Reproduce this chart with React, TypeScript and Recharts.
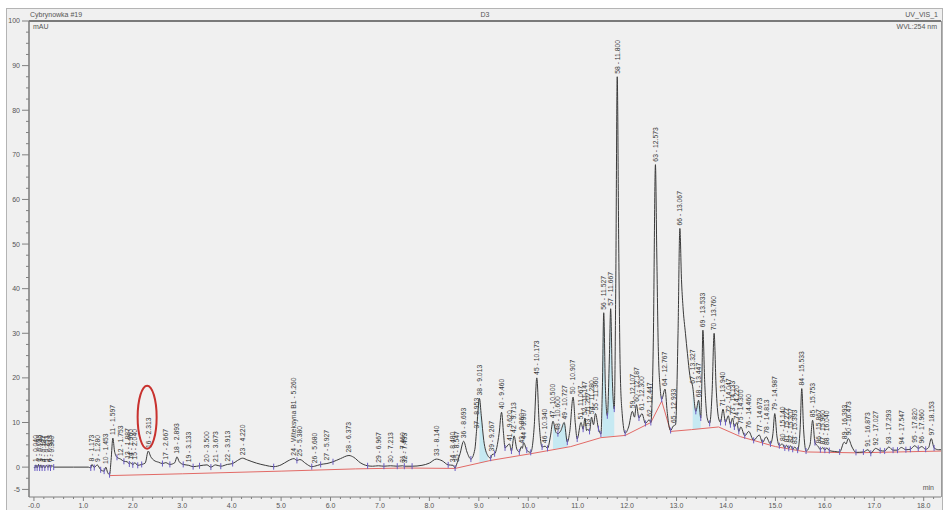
import { ComposedChart, Line, Area, Scatter, XAxis, YAxis, ReferenceDot } from 'recharts';

// signal trace: [retention time (min), absorbance (mAU)]
const signal: [number, number][] = [
  [0.0, 0.0], [0.02, -0.2], [0.04, 0.5], [0.065, -0.2], [0.093, 0.6], [0.115, -0.2], [0.14, 0.5],
  [0.165, -0.2], [0.187, 0.4], [0.22, -0.2], [0.253, 0.4], [0.285, -0.1], [0.313, 0.5], [0.335, -0.2],
  [0.36, 0.4], [0.4, 0.0], [0.8, 0.0], [1.1, 0.0], [1.15, -0.2], [1.173, 0.6], [1.22, -0.1], [1.28, 0.5],
  [1.35, -0.6], [1.42, -0.9], [1.453, 0.0], [1.49, -1.2], [1.53, -1.7], [1.56, 1.5], [1.597, 6.5],
  [1.63, 3.6], [1.68, 2.2], [1.753, 1.8], [1.82, 1.3], [1.887, 1.2], [1.93, 0.7], [1.96, 1.0], [2.0, 0.5],
  [2.04, 1.0], [2.1, 0.4], [2.18, 0.6], [2.25, 0.9], [2.313, 3.6], [2.36, 2.4], [2.43, 1.5], [2.52, 1.1],
  [2.6, 0.8], [2.667, 1.0], [2.75, 0.6], [2.85, 1.0], [2.893, 2.3], [2.94, 1.2], [3.02, 0.6], [3.133, 0.4],
  [3.22, 0.1], [3.35, 0.3], [3.5, 0.5], [3.58, 0.0], [3.673, 0.5], [3.78, 0.2], [3.913, 0.6], [4.02, 0.8],
  [4.12, 1.5], [4.22, 2.0], [4.32, 1.6], [4.5, 0.9], [4.68, 0.4], [4.85, 0.1], [5.0, 0.5], [5.14, 1.4],
  [5.26, 1.9], [5.32, 1.5], [5.38, 1.7], [5.5, 0.8], [5.62, 0.1], [5.68, 0.2], [5.8, 0.6], [5.927, 0.8],
  [6.05, 1.2], [6.2, 1.9], [6.373, 2.6], [6.47, 2.2], [6.6, 1.0], [6.75, 0.3], [6.85, 0.2], [6.967, 0.3],
  [7.08, 0.2], [7.213, 0.3], [7.35, 0.2], [7.46, 0.3], [7.493, 0.2], [7.65, 0.2], [7.85, 0.4], [8.0, 0.9],
  [8.14, 1.8], [8.26, 1.4], [8.38, 0.5], [8.48, 0.4], [8.52, -0.2], [8.547, 0.5], [8.62, 3.0], [8.693, 5.8],
  [8.76, 3.4], [8.84, 1.8], [8.92, 4.0], [8.953, 8.0], [9.013, 15.4], [9.05, 11.5], [9.1, 6.0], [9.18, 2.6],
  [9.24, 2.0], [9.267, 2.8], [9.32, 3.0], [9.41, 7.5], [9.46, 12.3], [9.5, 7.5], [9.53, 4.3], [9.62, 5.2],
  [9.66, 3.6], [9.713, 7.0], [9.77, 4.0], [9.82, 3.4], [9.86, 4.6], [9.88, 4.2], [9.907, 5.5], [9.97, 3.8],
  [10.05, 3.3], [10.12, 9.0], [10.173, 20.0], [10.22, 10.0], [10.28, 4.5], [10.34, 4.7], [10.39, 4.2],
  [10.45, 7.0], [10.5, 10.3], [10.56, 7.8], [10.6, 7.5], [10.66, 8.2], [10.727, 10.0], [10.79, 5.6],
  [10.84, 8.0], [10.907, 15.7], [10.95, 10.0], [10.99, 6.3], [11.067, 10.0], [11.11, 8.5], [11.147, 11.0],
  [11.18, 8.2], [11.207, 8.5], [11.24, 8.0], [11.28, 11.2], [11.32, 9.5], [11.36, 12.0], [11.42, 8.6],
  [11.47, 7.4], [11.5, 18.0], [11.527, 34.6], [11.56, 18.0], [11.6, 11.5], [11.64, 24.0], [11.667, 35.5],
  [11.7, 20.0], [11.74, 13.0], [11.77, 40.0], [11.8, 87.5], [11.83, 50.0], [11.86, 22.0], [11.9, 12.0],
  [11.96, 7.6], [12.03, 9.0], [12.107, 12.5], [12.15, 11.2], [12.187, 14.0], [12.24, 11.0], [12.3, 12.0],
  [12.37, 9.8], [12.447, 10.6], [12.48, 10.0], [12.53, 28.0], [12.573, 67.8], [12.6, 48.0], [12.63, 27.0],
  [12.67, 17.5], [12.7, 15.2], [12.767, 17.5], [12.81, 12.5], [12.85, 9.0], [12.88, 8.2], [12.933, 9.2],
  [12.98, 9.5], [13.03, 30.0], [13.067, 53.5], [13.1, 42.0], [13.13, 36.0], [13.18, 30.0], [13.22, 25.5],
  [13.27, 20.5], [13.327, 18.0], [13.39, 12.5], [13.447, 15.0], [13.49, 11.0], [13.51, 18.0],
  [13.533, 30.7], [13.57, 19.0], [13.62, 11.0], [13.67, 9.8], [13.72, 17.0], [13.76, 30.0], [13.8, 18.0],
  [13.85, 11.0], [13.89, 10.0], [13.94, 13.0], [13.99, 10.0], [14.047, 11.5], [14.09, 9.5], [14.133, 11.0],
  [14.17, 9.0], [14.22, 10.0], [14.26, 8.0], [14.3, 9.0], [14.38, 7.0], [14.46, 8.0], [14.56, 6.0],
  [14.673, 7.2], [14.74, 5.5], [14.813, 6.8], [14.9, 5.2], [14.95, 7.5], [14.987, 12.0], [15.03, 7.0],
  [15.08, 4.8], [15.14, 5.2], [15.19, 4.3], [15.227, 4.9], [15.27, 4.2], [15.307, 4.8], [15.35, 4.0],
  [15.393, 4.5], [15.45, 3.8], [15.5, 8.5], [15.533, 17.6], [15.57, 8.5], [15.62, 3.6], [15.7, 5.0],
  [15.753, 10.5], [15.8, 5.5], [15.867, 4.6], [15.91, 3.9], [15.96, 4.4], [16.0, 3.8], [16.04, 4.3],
  [16.09, 3.7], [16.2, 3.5], [16.3, 3.4], [16.393, 5.6], [16.43, 5.2], [16.473, 6.4], [16.55, 4.5],
  [16.63, 3.3], [16.78, 3.4], [16.873, 3.9], [16.93, 3.1], [17.027, 4.2], [17.12, 3.7], [17.21, 3.6],
  [17.293, 4.5], [17.38, 3.8], [17.47, 3.8], [17.547, 4.4], [17.64, 3.9], [17.73, 4.0], [17.82, 4.8],
  [17.89, 4.2], [17.96, 4.6], [18.04, 4.0], [18.1, 4.4], [18.153, 6.4], [18.21, 4.3], [18.3, 3.9], [18.35, 3.9],
];

// red integration baseline
const baseline: [number, number][] = [
  [1.53, -1.9], [3.0, -1.5], [5.0, -0.9], [6.5, -0.4], [7.5, -0.2], [8.52, -0.3], [9.24, 1.5],
  [10.05, 3.0], [10.86, 4.6], [11.47, 6.6], [11.96, 7.1], [12.48, 10.0], [12.7, 14.8], [12.88, 8.0],
  [13.3, 8.4], [13.85, 9.0], [14.3, 6.8], [15.0, 4.6], [15.62, 3.4], [16.63, 3.2], [17.5, 3.4], [18.35, 3.6],
];

// filled peak areas: [t, baseline, signal]
const shadeA: [number, number, number][] = [[9.013, 0.9, 15.4], [9.05, 1.0, 11.5], [9.1, 1.1, 6.0], [9.18, 1.3, 2.6]];
const shadeB: [number, number, number][] = [[10.5, 4.0, 10.3], [10.56, 4.1, 7.8], [10.6, 4.2, 7.5], [10.66, 4.3, 8.2], [10.727, 4.4, 10.0], [10.79, 4.5, 5.6]];
const shadeC: [number, number, number][] = [[11.5, 6.7, 18.0], [11.527, 6.7, 34.6], [11.56, 6.8, 18.0], [11.6, 6.8, 11.5], [11.64, 6.8, 24.0], [11.667, 6.9, 35.5], [11.7, 6.9, 20.0], [11.74, 6.9, 13.0]];
const shadeD: [number, number, number][] = [[13.327, 8.4, 18.0], [13.39, 8.5, 12.5], [13.447, 8.6, 15.0], [13.49, 8.6, 11.0]];

// peak number, retention time, apex height
const peakNo = [
  1, 2, 3, 4, 5, 6, 7, 8, 9, 10, 11, 12, 13, 14, 15, 16, 17, 18, 19, 20, 21, 22, 23, 24, 25, 26, 27, 28, 29, 30,
  31, 32, 33, 34, 35, 36, 37, 38, 39, 40, 41, 42, 43, 44, 45, 46, 47, 48, 49, 50, 51, 52, 53, 54, 55, 56, 57, 58,
  59, 60, 61, 62, 63, 64, 65, 66, 67, 68, 69, 70, 71, 72, 73, 74, 75, 76, 77, 78, 79, 80, 81, 82, 83, 84, 85, 86,
  87, 88, 89, 90, 91, 92, 93, 94, 95, 96, 97,
];
const peakRt = [
  0.04, 0.093, 0.14, 0.187, 0.253, 0.313, 0.36, 1.173, 1.28, 1.453, 1.597, 1.753, 1.887, 1.96, 2.04, 2.313,
  2.667, 2.893, 3.133, 3.5, 3.673, 3.913, 4.22, 5.26, 5.38, 5.68, 5.927, 6.373, 6.967, 7.213, 7.46, 7.493,
  8.14, 8.48, 8.547, 8.693, 8.953, 9.013, 9.267, 9.46, 9.62, 9.713, 9.86, 9.907, 10.173, 10.34, 10.5, 10.6,
  10.727, 10.907, 11.067, 11.147, 11.207, 11.28, 11.36, 11.527, 11.667, 11.8, 12.107, 12.187, 12.3, 12.447,
  12.573, 12.767, 12.933, 13.067, 13.327, 13.447, 13.533, 13.76, 13.94, 14.047, 14.133, 14.22, 14.3, 14.46,
  14.673, 14.813, 14.987, 15.14, 15.227, 15.307, 15.393, 15.533, 15.753, 15.867, 15.96, 16.04, 16.393,
  16.473, 16.873, 17.027, 17.293, 17.547, 17.82, 17.96, 18.153,
];
const peakHeight = [
  0.5, 0.6, 0.5, 0.4, 0.4, 0.5, 0.4, 0.6, 0.5, 0.0, 6.5, 1.8, 1.2, 1.0, 1.0, 3.6, 1.0, 2.3, 0.4, 0.5, 0.5,
  0.6, 2.0, 1.9, 1.7, 0.2, 0.8, 2.6, 0.3, 0.3, 0.3, 0.2, 1.8, 0.4, 0.5, 5.8, 8.0, 15.4, 2.8, 12.3, 5.2, 7.0,
  4.6, 5.5, 20.0, 4.7, 10.3, 7.5, 10.0, 15.7, 10.0, 11.0, 8.5, 11.2, 12.0, 34.6, 35.5, 87.5, 12.5, 14.0,
  12.0, 10.6, 67.8, 17.5, 9.2, 53.5, 18.0, 15.0, 30.7, 30.0, 13.0, 11.5, 11.0, 10.0, 9.0, 8.0, 7.2, 6.8,
  12.0, 5.2, 4.9, 4.8, 4.5, 17.6, 10.5, 4.6, 4.4, 4.3, 5.6, 6.4, 3.9, 4.2, 4.5, 4.4, 4.8, 4.6, 6.4,
];
const peakNames: Record<number, string> = { 24: 'Witeksyna B1' };

// integration delimiters (purple ticks)
const delimiters: [number, number][] = [
  [0.02, -0.2], [0.065, -0.2], [0.115, -0.2], [0.165, -0.2], [0.22, -0.2], [0.285, -0.1], [0.335, -0.2],
  [0.4, 0], [1.15, -0.2], [1.22, -0.1], [1.35, -0.6], [1.42, -0.9], [1.53, -1.7], [1.68, 2.2], [1.82, 1.3],
  [1.93, 0.7], [2.0, 0.5], [2.1, 0.4], [2.18, 0.6], [2.6, 0.8], [2.75, 0.6], [3.02, 0.6], [3.22, 0.1],
  [3.35, 0.3], [3.58, 0.0], [3.78, 0.2], [4.02, 0.8], [4.85, 0.1], [5.32, 1.5], [5.62, 0.1], [5.8, 0.6],
  [6.05, 1.2], [6.75, 0.3], [7.08, 0.2], [7.35, 0.2], [7.493, 0.2], [7.65, 0.2], [8.38, 0.5], [8.52, -0.2],
  [8.84, 1.8], [9.24, 2.0], [9.32, 3.0], [9.53, 4.3], [9.66, 3.6], [9.82, 3.4], [9.97, 3.8], [10.05, 3.3],
  [10.28, 4.5], [10.39, 4.2], [10.6, 7.5], [10.79, 5.6], [10.99, 6.3], [11.11, 8.5], [11.24, 8.0],
  [11.42, 8.6], [11.47, 7.4], [11.6, 11.5], [11.74, 13.0], [11.96, 7.6], [12.24, 11.0], [12.37, 9.8],
  [12.48, 10.0], [12.7, 15.2], [12.88, 8.2], [13.39, 12.5], [13.49, 11.0], [13.67, 9.8], [13.89, 10.0],
  [13.99, 10.0], [14.09, 9.5], [14.17, 9.0], [14.26, 8.0], [14.38, 7.0], [14.56, 6.0], [14.74, 5.5],
  [14.9, 5.2], [15.08, 4.8], [15.19, 4.3], [15.27, 4.2], [15.35, 4.0], [15.45, 3.8], [15.62, 3.6],
  [15.8, 5.5], [15.91, 3.9], [16.0, 3.8], [16.09, 3.7], [16.3, 3.4], [16.63, 3.3], [16.78, 3.4],
  [16.93, 3.1], [17.12, 3.7], [17.21, 3.6], [17.38, 3.8], [17.47, 3.8], [17.64, 3.9], [17.73, 4.0],
  [17.89, 4.2], [18.04, 4.0], [18.21, 4.3],
];

// circled peak annotation
const circled = { t: 2.29, v: 11.2 };

const xMajor = [0, 1, 2, 3, 4, 5, 6, 7, 8, 9, 10, 11, 12, 13, 14, 15, 16, 17, 18];
const xLabels = ['-0.0', '1.0', '2.0', '3.0', '4.0', '5.0', '6.0', '7.0', '8.0', '9.0', '10.0', '11.0', '12.0', '13.0', '14.0', '15.0', '16.0', '17.0', '18.0'];
const yMajor = [-5, 0, 10, 20, 30, 40, 50, 60, 70, 80, 90, 100];
const yLabels = ['-5', '0', '10', '20', '30', '40', '50', '60', '70', '80', '90', '100'];

const xTicks: number[] = [];
for (let k = 0; k <= 91; k++) xTicks.push(Math.round(k * 2) / 10);
const yTicks: number[] = [];
for (let k = -2; k <= 40; k++) yTicks.push(k * 2.5);

const FONT = '"Liberation Sans", Arial, sans-serif';

const signalData = signal.map(([t, v]) => ({ t, v }));
const baselineData = baseline.map(([t, v]) => ({ t, v }));
const toShade = (s: [number, number, number][]) => s.map(([t, lo, hi]) => ({ t, r: [lo, hi] }));
const peakData = peakNo.map((n, i) => ({ n, t: peakRt[i], v: peakHeight[i], name: peakNames[n] }));
const delimiterData = delimiters.map(([t, v]) => ({ t, v }));

function XTick(props: any) {
  const { x, y, payload } = props;
  const i = xMajor.findIndex((m) => Math.abs(m - payload.value) < 1e-6);
  return (
    <g>
      <line x1={x} x2={x} y1={y} y2={y + (i >= 0 ? 4 : 2)} stroke="#808080" />
      {i >= 0 && (
        <text x={x} y={y + 11} textAnchor="middle" fontSize={7} fill="#555" fontFamily={FONT}>
          {xLabels[i]}
        </text>
      )}
    </g>
  );
}

function YTick(props: any) {
  const { x, y, payload } = props;
  const i = yMajor.findIndex((m) => Math.abs(m - payload.value) < 1e-6);
  return (
    <g>
      <line x1={x - (i >= 0 ? 7 : 3)} x2={x} y1={y} y2={y} stroke="#808080" />
      {i >= 0 && (
        <text x={x - 9} y={y} dy="0.35em" textAnchor="end" fontSize={7} fill="#555" fontFamily={FONT}>
          {yLabels[i]}
        </text>
      )}
    </g>
  );
}

function PeakLabel(props: any) {
  const { cx, cy, payload } = props;
  if (cx == null || cy == null) return null;
  const y = cy - 3;
  const text = payload.name
    ? `${payload.n} - ${payload.name} - ${payload.t.toFixed(3)}`
    : `${payload.n} - ${payload.t.toFixed(3)}`;
  return (
    <text x={cx} y={y} dy="0.35em" transform={`rotate(-90 ${cx} ${y})`} fontSize={6.8} fill="#3a3a3a" fontFamily={FONT}>
      {text}
    </text>
  );
}

function Delimiter(props: any) {
  const { cx, cy } = props;
  if (cx == null || cy == null) return null;
  return <line x1={cx} x2={cx} y1={cy - 3} y2={cy + 3} stroke="#6a5cc4" strokeWidth={1} />;
}

const txt = (left: number, top: number, s: string, align: 'left' | 'right' | 'center' = 'left') => (
  <div
    style={{
      position: 'absolute',
      left,
      top,
      fontSize: 7,
      lineHeight: '8px',
      color: '#555',
      fontFamily: FONT,
      whiteSpace: 'nowrap',
      transform: align === 'right' ? 'translateX(-100%)' : align === 'center' ? 'translateX(-50%)' : undefined,
    }}
  >
    {s}
  </div>
);

export default function App() {
  return (
    <div style={{ position: 'absolute', left: 0, top: 0, width: 946, height: 510, background: '#fff', overflow: 'hidden' }}>
      <div style={{ position: 'absolute', left: 6, top: 8, width: 935, height: 510, background: '#f0f0f0', border: '1px solid #b4b4b4' }} />
      <div style={{ position: 'absolute', left: 29, top: 20, width: 912, height: 2, background: '#7a7a7a' }} />
      <div style={{ position: 'absolute', left: 941, top: 21, width: 1, height: 476, background: '#9a9a9a' }} />
      {txt(30, 11, 'Cybrynowka #19')}
      {txt(485, 11, 'D3', 'center')}
      {txt(938, 11, 'UV_VIS_1', 'right')}
      {txt(33, 23, 'mAU')}
      {txt(937, 23, 'WVL:254 nm', 'right')}
      {txt(934, 484, 'min', 'right')}
      <ComposedChart
        width={946}
        height={510}
        margin={{ top: 21, right: 5, bottom: 0, left: 6 }}
        style={{ position: 'absolute', left: 0, top: 0 }}
      >
        <XAxis
          type="number"
          dataKey="t"
          domain={[-0.1, 18.35]}
          ticks={xTicks}
          interval={0}
          height={13}
          tickSize={0}
          tickMargin={0}
          tickLine={false}
          tick={<XTick />}
          axisLine={{ stroke: '#808080' }}
          allowDataOverflow
        />
        <YAxis
          type="number"
          dataKey="v"
          domain={[-6.7, 100]}
          ticks={yTicks}
          interval={0}
          width={23}
          tickSize={0}
          tickMargin={0}
          tickLine={false}
          tick={<YTick />}
          axisLine={{ stroke: '#7a7a7a', strokeWidth: 1.5 }}
          allowDataOverflow
        />
        {[shadeA, shadeB, shadeC, shadeD].map((s, i) => (
          <Area
            key={i}
            data={toShade(s)}
            dataKey="r"
            type="monotone"
            stroke="none"
            fill="#c6e9f2"
            fillOpacity={1}
            isAnimationActive={false}
            dot={false}
            activeDot={false}
          />
        ))}
        <Line
          data={baselineData}
          dataKey="v"
          type="linear"
          stroke="#e26a66"
          strokeWidth={1}
          dot={false}
          activeDot={false}
          isAnimationActive={false}
        />
        <Line
          data={signalData}
          dataKey="v"
          type="monotone"
          stroke="#3a3a3a"
          strokeWidth={1}
          dot={false}
          activeDot={false}
          isAnimationActive={false}
        />
        <Scatter data={delimiterData} dataKey="v" shape={<Delimiter />} isAnimationActive={false} />
        <Scatter data={peakData} dataKey="v" shape={<PeakLabel />} isAnimationActive={false} />
        <ReferenceDot
          x={circled.t}
          y={circled.v}
          ifOverflow="visible"
          shape={(p: any) => (
            <ellipse cx={p.cx} cy={p.cy} rx={9.5} ry={31.5} fill="none" stroke="#c8322f" strokeWidth={2} />
          )}
        />
      </ComposedChart>
    </div>
  );
}
